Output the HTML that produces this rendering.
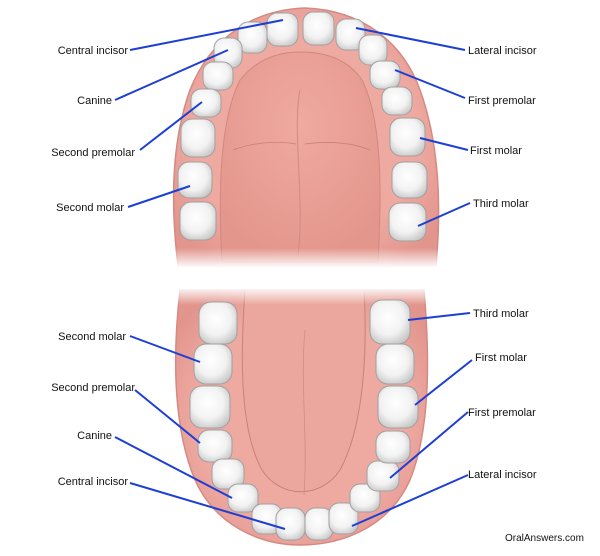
<!DOCTYPE html>
<html><head><style>
html,body{margin:0;padding:0;background:#fff;}
svg{display:block}
text{font-family:"Liberation Sans",sans-serif;font-size:11px;fill:#111}
</style></head><body>
<svg width="600" height="556" viewBox="0 0 600 556" xmlns="http://www.w3.org/2000/svg">
<defs>
<radialGradient id="pal" cx="50%" cy="35%" r="65%"><stop offset="0" stop-color="#f0aaa0"/><stop offset="1" stop-color="#e3968c"/></radialGradient>
<radialGradient id="gum" cx="50%" cy="50%" r="60%"><stop offset="0.7" stop-color="#eea9a1"/><stop offset="1" stop-color="#e2958d"/></radialGradient>
<linearGradient id="fadeU" x1="0" y1="0" x2="0" y2="1"><stop offset="0" stop-color="#fff" stop-opacity="0"/><stop offset="1" stop-color="#fff" stop-opacity="1"/></linearGradient>
<linearGradient id="fadeL" x1="0" y1="0" x2="0" y2="1"><stop offset="0" stop-color="#fff" stop-opacity="1"/><stop offset="1" stop-color="#fff" stop-opacity="0"/></linearGradient>
<radialGradient id="tooth" cx="45%" cy="40%" r="65%"><stop offset="0" stop-color="#ffffff"/><stop offset="0.6" stop-color="#f2f2f2"/><stop offset="1" stop-color="#c8c8c8"/></radialGradient>
</defs>
<!-- upper gum -->
<path d="M178,266 C170,200 172,140 190,90 C210,40 250,10 305,8 C360,10 402,40 420,90 C438,140 442,200 436,266 Z" fill="url(#gum)" stroke="#d48a82" stroke-width="1.5"/>
<path d="M222,262 C218,190 220,120 240,80 C260,55 285,52 300,52 C318,52 345,55 362,80 C382,120 382,190 378,262 Z" fill="url(#pal)" stroke="#cf8980" stroke-width="1"/>
<path d="M300,90 C292,130 305,200 298,255" stroke="#cf8b83" fill="none" stroke-width="1"/>
<path d="M233,150 C260,140 285,142 296,144 M305,144 C320,142 345,140 370,150" stroke="#c98078" fill="none" stroke-width="0.8"/>
<rect x="165" y="248" width="290" height="20" fill="url(#fadeU)"/>
<rect x="165" y="267" width="290" height="22" fill="#fff"/>
<!-- lower gum -->
<path d="M180,290 C172,360 174,430 195,480 C215,525 260,545 300,545 C345,545 390,525 410,480 C430,430 430,360 424,290 Z" fill="url(#gum)" stroke="#d48a82" stroke-width="1.5"/>
<path d="M245,290 C240,360 240,430 262,470 C280,498 320,500 340,470 C362,430 368,360 364,290 Z" fill="#eba69d" stroke="#c98078" stroke-width="1"/>
<path d="M305,330 C300,380 308,440 304,495" stroke="#d08c84" fill="none" stroke-width="0.8"/>
<rect x="165" y="287" width="290" height="18" fill="url(#fadeL)"/>
<!-- teeth -->
<g fill="url(#tooth)" stroke="#a0a0a0" stroke-width="1">
<rect x="267" y="13" width="31" height="33" rx="10"/>
<rect x="303" y="12" width="31" height="33" rx="10"/>
<rect x="336" y="19" width="29" height="31" rx="10"/>
<rect x="238" y="22" width="29" height="31" rx="10"/>
<rect x="214" y="38" width="28" height="30" rx="10"/>
<rect x="203" y="62" width="30" height="28" rx="10"/>
<rect x="191" y="89" width="30" height="28" rx="10"/>
<rect x="181" y="119" width="34" height="38" rx="11"/>
<rect x="178" y="162" width="34" height="36" rx="11"/>
<rect x="180" y="202" width="36" height="38" rx="11"/>
<rect x="359" y="35" width="28" height="30" rx="10"/>
<rect x="370" y="61" width="30" height="28" rx="10"/>
<rect x="382" y="87" width="30" height="28" rx="10"/>
<rect x="390" y="118" width="35" height="38" rx="11"/>
<rect x="392" y="162" width="35" height="36" rx="11"/>
<rect x="389" y="203" width="37" height="38" rx="11"/>
<rect x="199" y="302" width="38" height="42" rx="12"/>
<rect x="194" y="344" width="38" height="40" rx="12"/>
<rect x="190" y="386" width="40" height="42" rx="12"/>
<rect x="198" y="430" width="34" height="32" rx="11"/>
<rect x="212" y="459" width="32" height="30" rx="10"/>
<rect x="228" y="484" width="30" height="28" rx="10"/>
<rect x="252" y="504" width="30" height="30" rx="10"/>
<rect x="276" y="508" width="29" height="32" rx="10"/>
<rect x="305" y="508" width="28" height="32" rx="10"/>
<rect x="329" y="503" width="29" height="31" rx="10"/>
<rect x="350" y="484" width="30" height="28" rx="10"/>
<rect x="367" y="461" width="32" height="30" rx="10"/>
<rect x="376" y="431" width="34" height="32" rx="11"/>
<rect x="378" y="386" width="40" height="42" rx="12"/>
<rect x="376" y="344" width="38" height="40" rx="12"/>
<rect x="370" y="300" width="40" height="44" rx="12"/>
</g>
<g stroke="#1c3fd4" stroke-width="2" fill="none">
<line x1="130" y1="50" x2="283" y2="20"/>
<line x1="115" y1="100" x2="228" y2="50"/>
<line x1="140" y1="150" x2="202" y2="102"/>
<line x1="128" y1="207" x2="190" y2="186"/>
<line x1="465" y1="50" x2="356" y2="28"/>
<line x1="465" y1="98" x2="395" y2="70"/>
<line x1="468" y1="150" x2="420" y2="138"/>
<line x1="470" y1="203" x2="418" y2="226"/>
<line x1="470" y1="313" x2="408" y2="320"/>
<line x1="472" y1="360" x2="415" y2="405"/>
<line x1="468" y1="412" x2="390" y2="478"/>
<line x1="468" y1="475" x2="352" y2="526"/>
<line x1="130" y1="336" x2="200" y2="362"/>
<line x1="135" y1="390" x2="200" y2="443"/>
<line x1="115" y1="437" x2="232" y2="498"/>
<line x1="130" y1="483" x2="285" y2="529"/>
</g>
<g text-anchor="end">
<text x="128" y="54">Central incisor</text>
<text x="112" y="104">Canine</text>
<text x="135" y="156">Second premolar</text>
<text x="124" y="211">Second molar</text>
<text x="126" y="340">Second molar</text>
<text x="135" y="391">Second premolar</text>
<text x="112" y="439">Canine</text>
<text x="128" y="485">Central incisor</text>
</g>
<text x="468" y="54">Lateral incisor</text>
<text x="468" y="104">First premolar</text>
<text x="470" y="154">First molar</text>
<text x="473" y="207">Third molar</text>
<text x="473" y="317">Third molar</text>
<text x="475" y="361">First molar</text>
<text x="468" y="416">First premolar</text>
<text x="468" y="478">Lateral incisor</text>
<text x="505" y="541" style="font-size:10px">OralAnswers.com</text>
</svg>
</body></html>
